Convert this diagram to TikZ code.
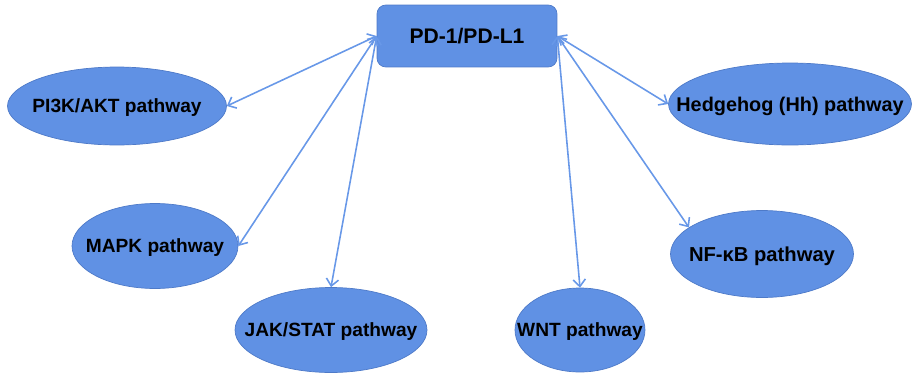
\documentclass[tikz,border=0pt]{standalone}
\usepackage{fontspec}
\setmainfont{Liberation Sans}
\usetikzlibrary{positioning, shapes.geometric, arrows.meta}
\definecolor{nodeblue}{RGB}{96,145,228}
\definecolor{edgeblue}{RGB}{78,122,200}
\definecolor{linkblue}{RGB}{104,152,232}
% label of zero width, so the ellipse keeps its own size
\newcommand{\plabel}[1]{\makebox[0pt][c]{#1}}

\begin{document}
\begin{tikzpicture}[x=0.02cm,y=-0.02cm,
  hub/.style={draw=edgeblue,fill=nodeblue,rounded corners=5pt,minimum width=3.6cm,minimum height=1.24cm,text depth=0pt,font=\fontsize{12}{14}\selectfont\bfseries},
  path/.style={ellipse,draw=edgeblue,fill=nodeblue,inner sep=0pt,text depth=0pt,font=\fontsize{10.9}{12}\selectfont\bfseries},
  link/.style={<->,>={Straight Barb[length=4pt,width=7pt]},linkblue,line width=0.9pt}]
\useasboundingbox (0,0) rectangle (914,373);
% centre box
\node[hub] (pd) at (467,36) {PD-1/PD-L1\hspace{10pt}};
% pathways
\node[path,minimum width=4.38cm,minimum height=1.56cm] (pi3k) at (117,106) {\plabel{PI3K/AKT pathway}};
\node[path,minimum width=3.32cm,minimum height=1.7cm] (mapk) at (155,246) {\plabel{MAPK pathway}};
\node[path,minimum width=3.84cm,minimum height=1.7cm] (jak) at (331,330) {\plabel{JAK/STAT pathway}};
\node[path,minimum width=2.6cm,minimum height=1.68cm] (wnt) at (580,330) {\plabel{WNT pathway}};
\node[path,minimum width=3.66cm,minimum height=1.74cm,font=\fontsize{11.5}{12}\selectfont\bfseries] (nfkb) at (762,254) {\plabel{NF-κB pathway}};
\node[path,minimum width=4.86cm,minimum height=1.64cm,font=\fontsize{11.3}{12}\selectfont\bfseries] (hh) at (790,104) {\plabel{Hedgehog (Hh) pathway}};
% links
\draw[link] (pd.west)--(pi3k.east);
\draw[link] (pd.west)--(mapk.east);
\draw[link] (pd.west)--(jak.north);
\draw[link] (pd.east)--(wnt.north);
\draw[link] (pd.east)--(nfkb.160);
\draw[link] (pd.east)--(hh.west);
\end{tikzpicture}
\end{document}
